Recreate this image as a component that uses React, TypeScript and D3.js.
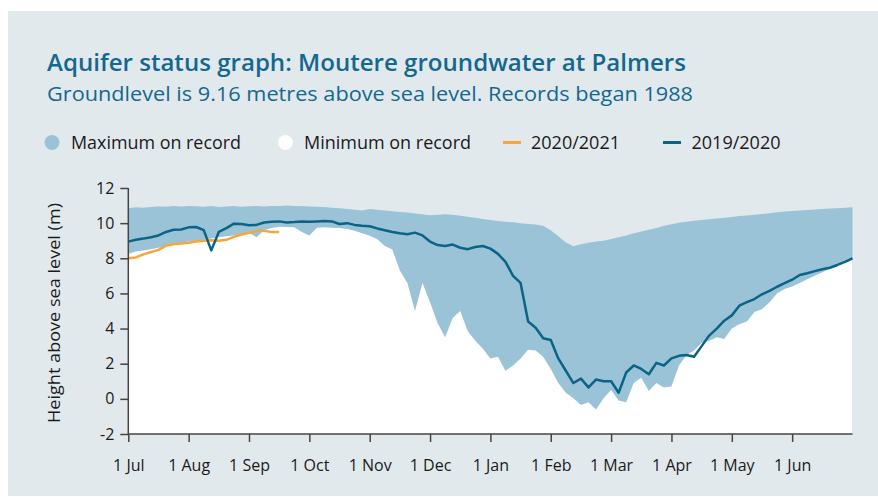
import React, { useEffect, useRef } from "react";
import * as d3 from "d3";

// month index runs 0 (1 Jul) .. 12 (end of Jun), samples every 1/8 month
const STEP = 1 / 8;

const months = ["1 Jul", "1 Aug", "1 Sep", "1 Oct", "1 Nov", "1 Dec", "1 Jan", "1 Feb", "1 Mar", "1 Apr", "1 May", "1 Jun"];
const yTicks = [-2, 0, 2, 4, 6, 8, 10, 12];

const maxRecord = [
  10.85, 10.9, 10.88, 10.92, 10.95, 10.93, 10.97, 10.95, 10.98, 10.96, 10.94, 10.97, 10.92, 10.95, 10.98, 10.93,
  10.96, 10.97, 10.95, 10.97, 10.98, 11.0, 10.98, 10.97, 10.95, 10.93, 10.92, 10.88, 10.85, 10.8, 10.76, 10.72,
  10.8, 10.76, 10.72, 10.68, 10.64, 10.6, 10.55, 10.5, 10.45, 10.48, 10.5, 10.48, 10.42, 10.36, 10.3, 10.24,
  10.18, 10.12, 10.08, 10.05, 10.0, 9.95, 9.92, 9.85, 9.6, 9.25, 8.9, 8.68, 8.8, 8.88, 8.95, 9.0,
  9.1, 9.2, 9.3, 9.42, 9.52, 9.62, 9.72, 9.85, 9.94, 10.02, 10.08, 10.14, 10.18, 10.22, 10.27, 10.3,
  10.35, 10.4, 10.44, 10.48, 10.52, 10.57, 10.62, 10.66, 10.69, 10.72, 10.75, 10.78, 10.8, 10.83, 10.85, 10.87,
  10.9,
];

const minRecord = [
  8.25, 8.38, 8.45, 8.52, 8.6, 8.72, 8.82, 8.88, 8.95, 9.0, 9.05, 9.12, 9.2, 9.25, 9.3, 9.38,
  9.45, 9.2, 9.6, 9.72, 9.8, 9.78, 9.76, 9.5, 9.3, 9.74, 9.76, 9.74, 9.72, 9.66, 9.56, 9.42,
  9.28, 9.08, 8.7, 8.5, 7.3, 6.6, 5.0, 6.6, 5.5, 4.3, 3.5, 4.6, 5.0, 3.85, 3.3, 2.85,
  2.3, 2.4, 1.6, 1.9, 2.3, 2.8, 2.75, 2.4, 1.7, 0.9, 0.35, 0.04, -0.35, -0.2, -0.6, 0.04,
  0.5, -0.1, -0.2, 0.9, 1.2, 0.45, 0.9, 0.65, 0.7, 1.9, 2.5, 2.75, 3.2, 3.3, 3.5, 3.4,
  4.0, 4.25, 4.4, 4.95, 5.1, 5.5, 6.0, 6.25, 6.4, 6.6, 6.8, 7.0, 7.2, 7.4, 7.62, 7.8,
  8.0,
];

const year2019 = [
  8.95, 9.05, 9.12, 9.2, 9.3, 9.5, 9.62, 9.64, 9.76, 9.78, 9.6, 8.45, 9.5, 9.72, 9.97, 9.95,
  9.88, 9.9, 10.04, 10.08, 10.1, 10.04, 10.06, 10.1, 10.08, 10.1, 10.12, 10.1, 9.95, 10.0, 9.9, 9.85,
  9.82, 9.7, 9.6, 9.5, 9.42, 9.37, 9.46, 9.3, 8.95, 8.75, 8.7, 8.78, 8.6, 8.52, 8.64, 8.7,
  8.55, 8.25, 7.8, 7.0, 6.6, 4.4, 4.05, 3.45, 3.35, 2.3, 1.6, 0.9, 1.15, 0.65, 1.1, 1.0,
  1.0, 0.35, 1.5, 1.9, 1.7, 1.4, 2.05, 1.9, 2.3, 2.45, 2.5, 2.4, 3.0, 3.6, 4.0, 4.45,
  4.75, 5.3, 5.5, 5.68, 5.95, 6.15, 6.38, 6.58, 6.78, 7.05, 7.15, 7.27, 7.38, 7.46, 7.62, 7.8,
  8.0,
];

const year2020 = [
  8.0, 8.05, 8.22, 8.36, 8.48, 8.72, 8.8, 8.84, 8.88, 8.95, 9.0, 9.03, 9.0, 9.05, 9.22, 9.35,
  9.45, 9.56, 9.56, 9.5, 9.5,
];

const BG = "#e2e9ed";
const BLUE_FILL = "#9ac3d8";
const DARK = "#0b6386";
const ORANGE = "#f6a63a";
const TITLE = "#12688e";
const FONT = "'Open Sans', 'Noto Sans', sans-serif";

const AquiferChart = () => {
  const ref = useRef<SVGSVGElement>(null);

  useEffect(() => {
    const svg = d3.select(ref.current);
    svg.selectAll("*").remove();

    const x = d3.scaleLinear().domain([0, 12]).range([128.3, 852.5]);
    const y = d3.scaleLinear().domain([-2, 12]).range([434, 188]);

    svg.append("rect").attr("x", 8).attr("y", 11).attr("width", 870).attr("height", 485).attr("fill", BG);

    // title block
    svg.append("text").attr("x", 47).attr("y", 71).attr("font-size", 23).attr("font-weight", 600)
      .attr("fill", TITLE).attr("textLength", 639).attr("lengthAdjust", "spacingAndGlyphs")
      .text("Aquifer status graph: Moutere groundwater at Palmers");
    svg.append("text").attr("x", 47).attr("y", 101).attr("font-size", 19.5)
      .attr("fill", TITLE).attr("textLength", 646).attr("lengthAdjust", "spacingAndGlyphs")
      .text("Groundlevel is 9.16 metres above sea level. Records began 1988");

    // legend
    const lg = svg.append("g").attr("font-size", 18).attr("fill", "#1a1a1a");
    lg.append("circle").attr("cx", 52).attr("cy", 142.5).attr("r", 7.5).attr("fill", BLUE_FILL);
    lg.append("text").attr("x", 71).attr("y", 149).attr("textLength", 170).attr("lengthAdjust", "spacingAndGlyphs").text("Maximum on record");
    lg.append("circle").attr("cx", 285.5).attr("cy", 142.5).attr("r", 7.5).attr("fill", "#fff");
    lg.append("text").attr("x", 304).attr("y", 149).attr("textLength", 167).attr("lengthAdjust", "spacingAndGlyphs").text("Minimum on record");
    lg.append("line").attr("x1", 503).attr("x2", 521).attr("y1", 142.5).attr("y2", 142.5).attr("stroke", ORANGE).attr("stroke-width", 3);
    lg.append("text").attr("x", 531).attr("y", 149).attr("textLength", 89).attr("lengthAdjust", "spacingAndGlyphs").text("2020/2021");
    lg.append("line").attr("x1", 663).attr("x2", 681).attr("y1", 142.5).attr("y2", 142.5).attr("stroke", DARK).attr("stroke-width", 3);
    lg.append("text").attr("x", 691.5).attr("y", 149).attr("textLength", 89).attr("lengthAdjust", "spacingAndGlyphs").text("2019/2020");

    // envelopes: max in blue, then min in white over it
    const area = d3.area<number>()
      .x((_, i) => x(i * STEP))
      .y0(y(-2))
      .y1(d => y(d));
    svg.append("path").datum(maxRecord).attr("d", area).attr("fill", BLUE_FILL);
    svg.append("path").datum(minRecord).attr("d", area).attr("fill", "#fff");

    const line = d3.line<number>()
      .x((_, i) => x(i * STEP))
      .y(d => y(d));
    svg.append("path").datum(year2020).attr("d", line).attr("fill", "none")
      .attr("stroke", ORANGE).attr("stroke-width", 2.5).attr("stroke-linejoin", "round");
    svg.append("path").datum(year2019).attr("d", line).attr("fill", "none")
      .attr("stroke", DARK).attr("stroke-width", 2.5).attr("stroke-linejoin", "round");

    // axes
    const gy = svg.append("g").attr("transform", `translate(${x(0)},0)`)
      .call(d3.axisLeft(y).tickValues(yTicks).tickSize(8).tickPadding(6).tickFormat((d) => String(d)));
    const gx = svg.append("g").attr("transform", `translate(0,${y(-2)})`)
      .call(d3.axisBottom(x).tickValues(d3.range(12)).tickSize(8).tickPadding(18)
        .tickFormat((d) => months[+d]));
    [gx, gy].forEach(g => {
      g.select(".domain").attr("stroke", "#444").attr("stroke-width", 1.5);
      g.selectAll(".tick line").attr("stroke", "#444").attr("stroke-width", 1.5);
      g.selectAll("text").attr("font-family", FONT).attr("font-size", 16).attr("fill", "#1a1a1a");
    });
    gx.select(".domain").attr("d", `M${x(0)},0H${x(12)}`);
    gy.select(".domain").attr("d", `M0,${y(12)}V${y(-2)}`);

    svg.append("text")
      .attr("transform", `translate(60,313) rotate(-90)`)
      .attr("text-anchor", "middle").attr("font-size", 16.5).attr("fill", "#1a1a1a")
      .attr("textLength", 220).attr("lengthAdjust", "spacingAndGlyphs")
      .text("Height above sea level (m)");
  }, []);

  return (
    <svg
      ref={ref}
      width={878}
      height={497}
      style={{ position: "absolute", left: 0, top: 0, fontFamily: FONT, background: "#fff" }}
    />
  );
};

export default function App() {
  return <AquiferChart />;
}
